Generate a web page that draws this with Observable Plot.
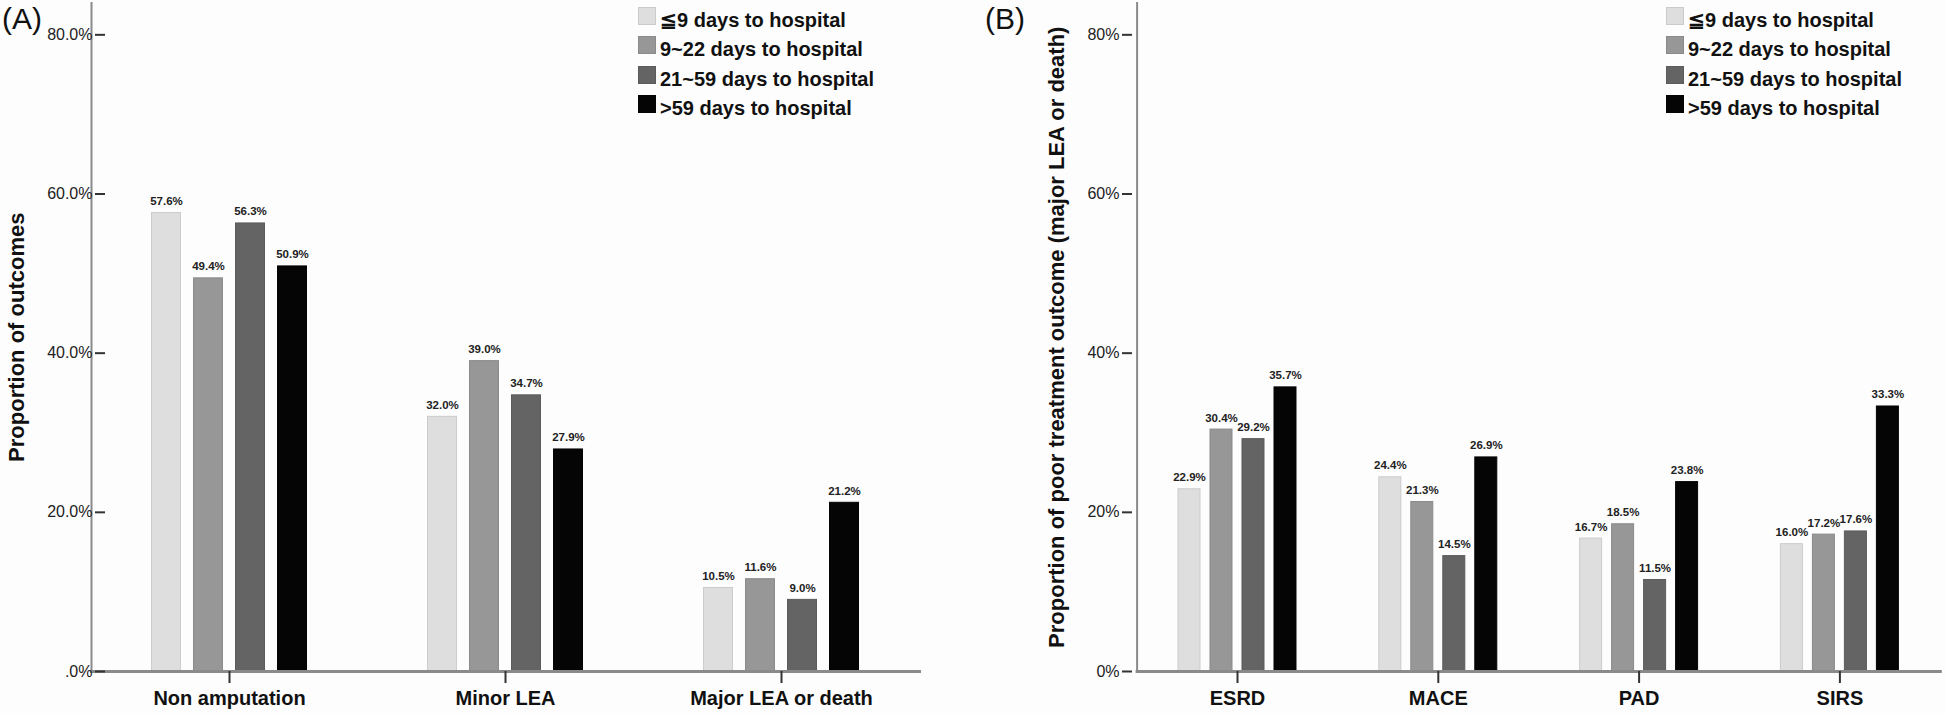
<!DOCTYPE html>
<html><head><meta charset="utf-8">
<script src="https://cdn.jsdelivr.net/npm/d3@7"></script>
<script src="https://cdn.jsdelivr.net/npm/@observablehq/plot@0.6"></script>
<style>
html,body{margin:0;padding:0;background:#fdfdfd;}
#wrap{position:relative;width:1946px;height:713px;overflow:hidden;background:#fdfdfd;font-family:"Liberation Sans",Arial,sans-serif;}
.panel{position:absolute;top:0;}
.tag{position:absolute;top:4px;font-size:30px;line-height:30px;color:#111;}
.legend{position:absolute;top:7px;}
.row{display:flex;align-items:flex-start;height:18px;margin-bottom:11.4px;}
.sw{width:18px;height:18px;box-sizing:border-box;}
.lbl{font-weight:bold;font-size:20px;line-height:18px;margin-left:4px;position:relative;top:4px;color:#111;white-space:nowrap;}
</style></head><body><div id="wrap"></div>
<script>
// ---- data ----
const seriesNames = ["≦9 days to hospital", "9~22 days to hospital", "21~59 days to hospital", ">59 days to hospital"];
const seriesColors = ["#dedede", "#979797", "#646464", "#050505"];

const outcomeCategories = ["Non amputation", "Minor LEA", "Major LEA or death"];
const outcomeLe9    = [57.6, 32.0, 10.5];
const outcome9to22  = [49.4, 39.0, 11.6];
const outcome21to59 = [56.3, 34.7, 9.0];
const outcomeGt59   = [50.9, 27.9, 21.2];
const outcomeTicks = [0, 20, 40, 60, 80];
const outcomeTickLabels = [".0%", "20.0%", "40.0%", "60.0%", "80.0%"];

const comorbCategories = ["ESRD", "MACE", "PAD", "SIRS"];
const comorbLe9    = [22.9, 24.4, 16.7, 16.0];
const comorb9to22  = [30.4, 21.3, 18.5, 17.2];
const comorb21to59 = [29.2, 14.5, 11.5, 17.6];
const comorbGt59   = [35.7, 26.9, 23.8, 33.3];
const comorbTicks = [0, 20, 40, 60, 80];
const comorbTickLabels = ["0%", "20%", "40%", "60%", "80%"];

function tidy(cats, seriesArrays) {
  const rows = [];
  cats.forEach((c, ci) => seriesArrays.forEach((arr, si) => rows.push({cat: c, series: seriesNames[si], value: arr[ci]})));
  return rows;
}
const outcomeRows = tidy(outcomeCategories, [outcomeLe9, outcome9to22, outcome21to59, outcomeGt59]);
const comorbRows = tidy(comorbCategories, [comorbLe9, comorb9to22, comorb21to59, comorbGt59]);

const wrap = document.getElementById("wrap");
const font = '"Liberation Sans", Arial, sans-serif';

function panel(cfg) {
  const edge = d3.scaleOrdinal(seriesNames, seriesColors.map(c => d3.color(c).darker(0.25).formatHex()));
  const chart = Plot.plot({
    width: cfg.width, height: 713,
    marginLeft: cfg.marginLeft, marginRight: cfg.marginRight, marginTop: 2.5, marginBottom: 42,
    style: {background: "transparent", fontFamily: font, color: "#222", overflow: "visible"},
    fx: {domain: cfg.cats, range: cfg.fxRange, paddingInner: 0, paddingOuter: 0, round: false, axis: null},
    x: {domain: seriesNames, paddingInner: cfg.padInner, paddingOuter: cfg.padOuter, round: false, axis: null},
    y: {domain: [0, 84], axis: null},
    color: {domain: seriesNames, range: seriesColors},
    marks: [
      Plot.barY(cfg.rows, {fx: "cat", x: "series", y: "value", fill: "series", stroke: d => edge(d.series), strokeWidth: 1}),
      Plot.text(cfg.rows, {fx: "cat", x: "series", y: "value", text: d => d.value.toFixed(1) + "%", dy: -8, lineAnchor: "bottom", fontWeight: "bold", fontSize: 11.5, fill: "#222"}),
      Plot.frame({facet: "super", anchor: "left", stroke: "#8a8a8a", strokeWidth: 2}),
      Plot.frame({facet: "super", anchor: "bottom", stroke: "#8a8a8a", strokeWidth: 3}),
      Plot.axisY({ticks: cfg.ticks, tickFormat: (d) => cfg.tickLabels[cfg.ticks.indexOf(d)], tickSize: 10, tickPadding: 3, dx: cfg.axisDx, stroke: "#333", strokeWidth: 2, fontSize: 16, fill: "#222", label: null}),
      Plot.axisFx({anchor: "bottom", tickSize: 12, tickPadding: 7, fontSize: 20, fontWeight: "bold", stroke: "#333", strokeWidth: 2, fill: "#111", label: null}),
      Plot.text([cfg.title], {facet: "super", frameAnchor: "left", rotate: -90, textAnchor: "middle", lineAnchor: "bottom", dx: cfg.titleDx, fontWeight: "bold", fontSize: 22, fill: "#111", text: d => d})
    ]
  });
  const holder = document.createElement("div");
  holder.className = "panel";
  holder.style.left = cfg.left + "px";
  holder.appendChild(chart);
  wrap.appendChild(holder);

  const tag = document.createElement("div");
  tag.className = "tag";
  tag.style.left = cfg.tagLeft + "px";
  tag.textContent = cfg.tag;
  wrap.appendChild(tag);

  const color = chart.scale("color");
  const lg = document.createElement("div");
  lg.className = "legend";
  lg.style.left = cfg.legendLeft + "px";
  color.domain.forEach((name, i) => {
    const row = document.createElement("div"); row.className = "row";
    const sw = document.createElement("div"); sw.className = "sw";
    sw.style.background = color.range[i];
    sw.style.border = "1px solid " + edge(name);
    const lb = document.createElement("span"); lb.className = "lbl"; lb.textContent = name;
    row.appendChild(sw); row.appendChild(lb); lg.appendChild(row);
  });
  wrap.appendChild(lg);
}

panel({
  rows: outcomeRows, cats: outcomeCategories, left: 0, width: 975,
  marginLeft: 105, marginRight: 69, fxRange: [91, 919], padInner: 0.31, padOuter: 1.44,
  axisDx: 14, ticks: outcomeTicks, tickLabels: outcomeTickLabels,
  title: "Proportion of outcomes", titleDx: -68,
  tag: "(A)", tagLeft: 2, legendLeft: 638
});
panel({
  rows: comorbRows, cats: comorbCategories, left: 975, width: 971,
  marginLeft: 157, marginRight: 0, fxRange: [161.6, 964.8], padInner: 0.3125, padOuter: 1.294,
  axisDx: -4.6, ticks: comorbTicks, tickLabels: comorbTickLabels,
  title: "Proportion of poor treatment outcome (major LEA or death)", titleDx: -73.6,
  tag: "(B)", tagLeft: 985, legendLeft: 1666
});
</script></body></html>
